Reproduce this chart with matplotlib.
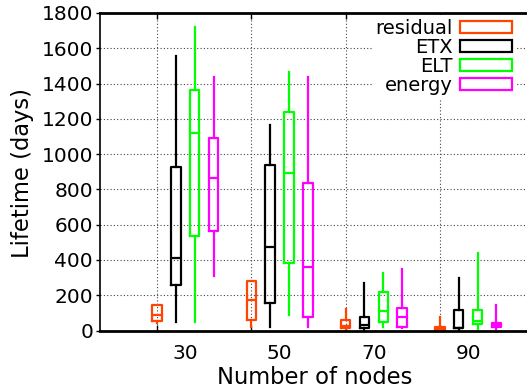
import matplotlib
matplotlib.use("Agg")
import matplotlib.pyplot as plt
from matplotlib.patches import Patch

categories = ["30", "50", "70", "90"]
series = ["residual", "ETX", "ELT", "energy"]
colors = ["#FF4500", "#000000", "#00FF00", "#FF00FF"]

residual_lo = [40, 20, 2, 0]
residual_q1 = [54, 60, 12, 3]
residual_med = [88, 173, 25, 10]
residual_q3 = [145, 279, 58, 22]
residual_hi = [145, 279, 122, 78]

etx_lo = [48, 22, 5, 3]
etx_q1 = [256, 154, 15, 12]
etx_med = [413, 473, 29, 15]
etx_q3 = [925, 938, 77, 118]
etx_hi = [1558, 1163, 268, 296]

elt_lo = [46, 86, 18, 7]
elt_q1 = [536, 383, 50, 35]
elt_med = [1121, 891, 109, 56]
elt_q3 = [1362, 1239, 220, 116]
elt_hi = [1719, 1464, 328, 438]

energy_lo = [309, 22, 14, 7]
energy_q1 = [564, 77, 20, 18]
energy_med = [863, 358, 75, 30]
energy_q3 = [1090, 834, 128, 41]
energy_hi = [1435, 1435, 347, 145]

data = [
    (residual_lo, residual_q1, residual_med, residual_q3, residual_hi),
    (etx_lo, etx_q1, etx_med, etx_q3, etx_hi),
    (elt_lo, elt_q1, elt_med, elt_q3, elt_hi),
    (energy_lo, energy_q1, energy_med, energy_q3, energy_hi),
]

W, H = 527, 392
fig = plt.figure(figsize=(W / 100, H / 100), dpi=100)
ax = fig.add_axes([100 / W, 1 - 330.5 / H, 427 / W, 317.5 / H])

lw = 1.6
for s, (lo, q1, med, q3, hi) in enumerate(data):
    stats = []
    for i in range(len(categories)):
        stats.append(dict(whislo=lo[i], q1=q1[i], med=med[i], q3=q3[i], whishi=hi[i], fliers=[]))
    pos = [i + 1 + 0.2 * s for i in range(len(categories))]
    c = colors[s]
    ax.bxp(stats, positions=pos, widths=0.1, showcaps=False, showfliers=False,
           patch_artist=False, manage_ticks=False,
           boxprops=dict(color=c, linewidth=lw),
           medianprops=dict(color=c, linewidth=lw),
           whiskerprops=dict(color=c, linewidth=lw))

ax.set_ylim(0, 1800)
ax.set_xlim(0.395, 4.925)
ax.set_yticks(range(0, 1801, 200))
# labels at group centres (major), grid/tick marks at group starts (minor)
ax.set_xticks([i + 1.3 for i in range(len(categories))], categories)
ax.set_xticks([i + 1 for i in range(len(categories))], minor=True)
ax.tick_params(axis="x", which="major", length=0, labelsize=14.5, pad=10)
ax.tick_params(axis="x", which="minor", direction="in", length=4, top=True, bottom=True, width=1)
ax.tick_params(axis="y", which="major", direction="out", length=3, labelsize=14.5, pad=2, width=1)

gstyle = dict(color="#444444", linestyle=(0, (1, 2)), linewidth=0.8)
ax.grid(False, axis="x", which="major")
ax.grid(True, axis="x", which="minor", **gstyle)
ax.grid(True, axis="y", which="major", **gstyle)
ax.set_axisbelow(True)

ax.spines["right"].set_visible(False)
ax.spines["top"].set_linewidth(2)
ax.spines["bottom"].set_linewidth(2)
ax.spines["left"].set_linewidth(1.2)

ax.set_xlabel("Number of nodes", fontsize=16.3, labelpad=2)
ax.set_ylabel("Lifetime (days)", fontsize=16.3, labelpad=6)
ax.xaxis.set_label_coords((315 - 100) / 427, -(377 - 330.5) / 317.5 - 0.0)
ax.xaxis.label.set_va("center")
ax.yaxis.set_label_coords(-(100 - 23) / 427, (330.5 - 173) / 317.5)
ax.yaxis.label.set_va("center")

handles = [Patch(facecolor="white", edgecolor=c, linewidth=lw) for c in colors]
leg = ax.legend(handles, series, loc="upper right",
                bbox_to_anchor=((516 - 100) / 427, 1.0 - 2 / 317.5),
                markerfirst=False, fontsize=14, frameon=True, framealpha=1,
                edgecolor="none", facecolor="white", handlelength=2.68,
                handleheight=0.52, labelspacing=0.0, borderpad=0.2,
                handletextpad=0.36, borderaxespad=0.0, fancybox=False)
leg._legend_box.align = "right"

fig.savefig("out.png", dpi=100)
